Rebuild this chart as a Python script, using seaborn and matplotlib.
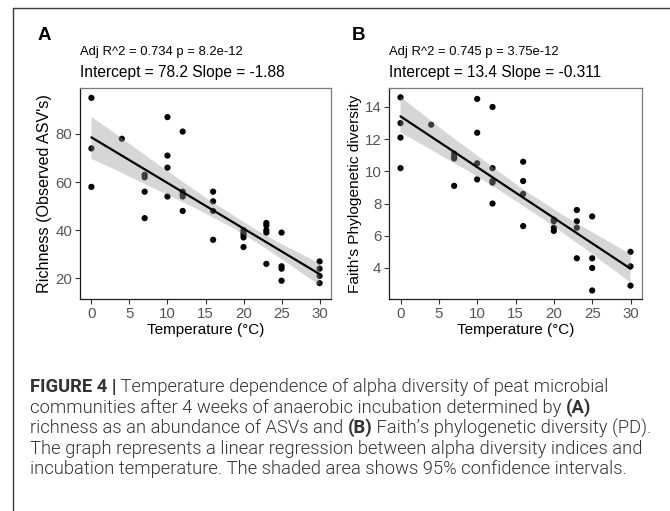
import numpy as np
import pandas as pd
import matplotlib
matplotlib.use("Agg")
import matplotlib.pyplot as plt
from matplotlib.lines import Line2D
from matplotlib.collections import PolyCollection
import seaborn as sns

# ---------------- data ----------------
temp_a = [0, 0, 0, 4, 7, 7, 7, 7, 10, 10, 10, 10, 12, 12, 12, 12, 12,
          16, 16, 16, 16, 20, 20, 20, 20, 20, 23, 23, 23, 23, 23,
          25, 25, 25, 25, 30, 30, 30, 30]
richness = [95, 74, 58, 78, 63, 62, 56, 45, 87, 71, 66, 54, 81, 56, 55, 54, 48,
            56, 52, 48, 36, 40, 39, 38, 37, 33, 43, 42, 40, 39, 26,
            39, 25, 24, 19, 27, 24, 21, 18]

temp_b = [0, 0, 0, 0, 4, 7, 7, 7, 7, 10, 10, 10, 10, 12, 12, 12, 12, 12,
          16, 16, 16, 16, 20, 20, 20, 20, 23, 23, 23, 23,
          25, 25, 25, 25, 30, 30, 30]
faith_pd = [14.6, 13.0, 12.1, 10.2, 12.9, 11.1, 10.9, 10.8, 9.1,
            14.5, 12.4, 10.5, 9.5, 14.0, 10.2, 9.4, 9.3, 8.0,
            10.6, 9.4, 8.6, 6.6, 7.0, 6.9, 6.5, 6.3, 7.6, 6.9, 6.5, 4.6,
            7.2, 4.6, 4.0, 2.6, 5.0, 4.1, 2.9]

x_ticks = [0, 5, 10, 15, 20, 25, 30]
panel_letters = ["A", "B"]
stat_lines = ["Adj R^2 = 0.734 p = 8.2e-12", "Adj R^2 = 0.745 p = 3.75e-12"]
fit_lines = ["Intercept = 78.2 Slope = -1.88", "Intercept = 13.4 Slope = -0.311"]
y_labels = ["Richness (Observed ASV's)", "Faith's Phylogenetic diversity"]
x_label = "Temperature (\u00b0C)"

caption = [
    [("FIGURE 4 |", True), (" Temperature dependence of alpha diversity of peat microbial", False)],
    [("communities after 4 weeks of anaerobic incubation determined by ", False), ("(A)", True)],
    [("richness as an abundance of ASVs and ", False), ("(B)", True),
     (" Faith\u2019s phylogenetic diversity (PD).", False)],
    [("The graph represents a linear regression between alpha diversity indices and", False)],
    [("incubation temperature. The shaded area shows 95% confidence intervals.", False)],
]

df_a = pd.DataFrame({"temp": temp_a, "val": richness})
df_b = pd.DataFrame({"temp": temp_b, "val": faith_pd})

# ---------------- figure ----------------
sns.set_theme(style="white")
plt.rcParams["font.family"] = ["Liberation Sans", "DejaVu Sans"]

W, H = 670, 511
fig = plt.figure(figsize=(W / 100, H / 100), dpi=100)

def fx(px):
    return px / W

def fy(py):
    return 1 - py / H

panels = [
    dict(df=df_a, box=(80, 88, 331, 299), ylim=(11.4, 99.1), yticks=[20, 40, 60, 80],
         letter_x=38, ylab_x=45, ylab_size=11.6),
    dict(df=df_b, box=(389, 88, 642, 299), ylim=(2.07, 15.18), yticks=[4, 6, 8, 10, 12, 14],
         letter_x=352, ylab_x=355, ylab_size=11.1),
]

for i, p in enumerate(panels):
    x0, y0, x1, y1 = p["box"]
    ax = fig.add_axes([fx(x0), fy(y1), fx(x1 - x0), (y1 - y0) / H])
    sns.scatterplot(data=p["df"], x="temp", y="val", ax=ax, color="black",
                    s=20, edgecolor="none", linewidth=0, zorder=1)
    sns.regplot(data=p["df"], x="temp", y="val", ax=ax, scatter=False, ci=95,
                seed=1, color="black", truncate=True,
                line_kws=dict(lw=1.6, zorder=3))
    for coll in ax.collections:
        if isinstance(coll, PolyCollection):
            coll.set_alpha(None)
            coll.set_facecolor((0.6, 0.6, 0.6, 0.4))
            coll.set_edgecolor("none")
            coll.set_zorder(2)
    ax.set_xlim(-1.5, 31.5)
    ax.set_ylim(*p["ylim"])
    ax.set_xticks(x_ticks)
    ax.set_yticks(p["yticks"])
    ax.set_xlabel("")
    ax.set_ylabel("")
    ax.tick_params(axis="both", which="both", direction="out", length=3.5, width=0.8,
                   color="#333333", labelsize=10.8, labelcolor="#555555", pad=2,
                   bottom=True, left=True)
    for side in ["left", "bottom"]:
        ax.spines[side].set_color("#1a1a1a")
        ax.spines[side].set_linewidth(0.9)
    for side in ["top", "right"]:
        ax.spines[side].set_color("#7a7a7a")
        ax.spines[side].set_linewidth(0.9)
    ax.grid(False)

    # texts
    fig.text(fx(p["letter_x"]), fy(35), panel_letters[i], fontsize=13.5, fontweight="bold",
             ha="left", va="center", color="black")
    fig.text(fx(x0), fy(52), stat_lines[i], fontsize=9.4, ha="left", va="center", color="black")
    fig.text(fx(x0), fy(72), fit_lines[i], fontsize=11.2, ha="left", va="center", color="black")
    fig.text(fx(p["ylab_x"]), fy((y0 + y1) / 2), y_labels[i], fontsize=p["ylab_size"],
             rotation=90, ha="center", va="center", color="black")
    fig.text(fx((x0 + x1) / 2), fy(330), x_label, fontsize=11, ha="center", va="center",
             color="black")

# border lines of the figure frame
fig.add_artist(Line2D([fx(13), 1.0], [fy(8), fy(8)], transform=fig.transFigure,
                      color="#3a3a3a", lw=1.0))
fig.add_artist(Line2D([fx(13), fx(13)], [fy(8), 0.0], transform=fig.transFigure,
                      color="#3a3a3a", lw=1.0))

# caption with mixed bold segments; font size chosen so line 3 spans ~620 px
renderer = fig.canvas.get_renderer()
cap_family = ["Roboto", "Liberation Sans", "DejaVu Sans"]

def draw_line(segs, ly, size, keep=True):
    xpix = 30.0
    arts = []
    for txt, bold in segs:
        t = fig.text(fx(xpix), fy(ly), txt, fontsize=size,
                     fontweight="bold" if bold else 300,
                     ha="left", va="center", color="#333333", family=cap_family)
        bb = t.get_window_extent(renderer=renderer)
        xpix = bb.x1
        arts.append(t)
    if not keep:
        for t in arts:
            t.remove()
    return xpix

base = 10.0
end = draw_line(caption[2], 428, base, keep=False)
cap_size = base * (650 - 30) / (end - 30)

line_y = [387, 408, 428, 449, 469]
for segs, ly in zip(caption, line_y):
    draw_line(segs, ly, cap_size)

fig.savefig("out.png", dpi=100)
